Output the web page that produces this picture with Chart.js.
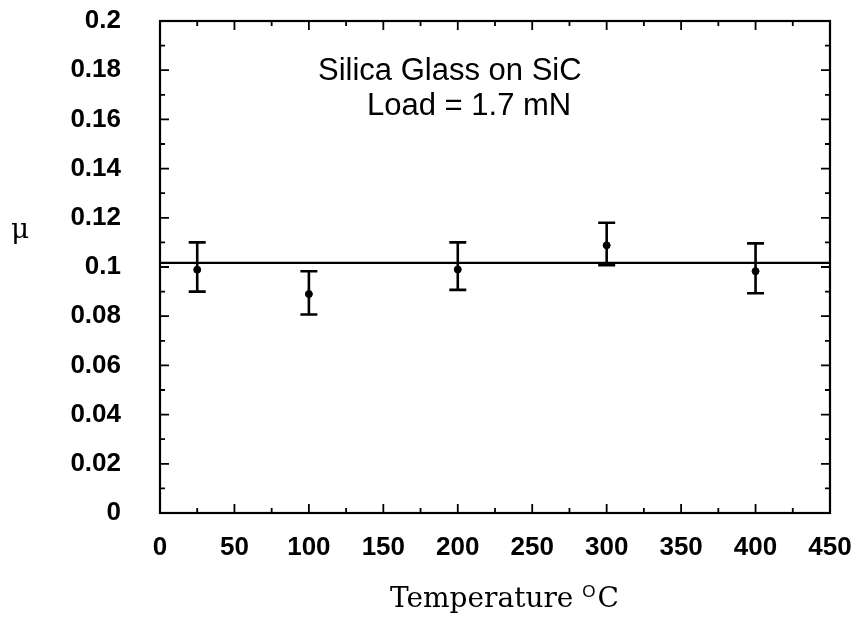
<!DOCTYPE html>
<html>
<head>
<meta charset="utf-8">
<script src="https://cdn.jsdelivr.net/npm/chart.js@4/dist/chart.umd.min.js"></script>
<style>
    html, body { margin: 0; padding: 0; background: #fff; }
    #wrap { width: 860px; height: 617px; }
</style>
</head>
<body>
<div id="wrap"><canvas id="muChart" width="860" height="617"></canvas></div>
<script>
const temperatures = [25, 100, 200, 300, 400];
const muValues = [0.0989, 0.0890, 0.0990, 0.1088, 0.0983];
const muUpper = [0.1100, 0.0983, 0.1100, 0.1180, 0.1096];
const muLower = [0.0900, 0.0807, 0.0907, 0.1007, 0.0893];
const fitLineX = [0, 450];
const fitLineY = [0.1017, 0.1017];
const xTickLabels = ["0", "50", "100", "150", "200", "250", "300", "350", "400", "450"];
const yTickLabels = ["0", "0.02", "0.04", "0.06", "0.08", "0.1", "0.12", "0.14", "0.16", "0.18", "0.2"];
const annotationLines = ["Silica Glass on SiC", "Load = 1.7 mN"];

const sansBold = { family: "'Liberation Sans', Arial, sans-serif", size: 26, weight: "bold" };

// frame with inward ticks on all four sides
const framePlugin = {
    id: "frame",
    afterDraw(chart) {
        const { ctx, chartArea: a, scales } = chart;
        const x = scales.x;
        const y = scales.y;
        ctx.save();
        ctx.strokeStyle = "#000";
        ctx.lineWidth = 2.2;
        ctx.strokeRect(a.left, a.top, a.right - a.left, a.bottom - a.top);

        ctx.lineWidth = 1.8;
        for (let v = 0; v <= 450; v += 25) {
            const px = x.getPixelForValue(v);
            const len = v % 50 === 0 ? 9 : 5;
            ctx.beginPath();
            ctx.moveTo(px, a.bottom);
            ctx.lineTo(px, a.bottom - len);
            ctx.moveTo(px, a.top);
            ctx.lineTo(px, a.top + len);
            ctx.stroke();
        }
        for (let i = 0; i <= 20; i++) {
            const py = y.getPixelForValue(i * 0.01);
            const len = i % 2 === 0 ? 9 : 5;
            ctx.beginPath();
            ctx.moveTo(a.left, py);
            ctx.lineTo(a.left + len, py);
            ctx.moveTo(a.right, py);
            ctx.lineTo(a.right - len, py);
            ctx.stroke();
        }
        ctx.restore();
    }
};

const errorBarPlugin = {
    id: "errorBars",
    afterDatasetsDraw(chart) {
        const { ctx, scales } = chart;
        ctx.save();
        ctx.strokeStyle = "#000";
        ctx.lineWidth = 2.6;
        temperatures.forEach((t, i) => {
            const px = scales.x.getPixelForValue(t);
            const top = scales.y.getPixelForValue(muUpper[i]);
            const bot = scales.y.getPixelForValue(muLower[i]);
            ctx.beginPath();
            ctx.moveTo(px, top);
            ctx.lineTo(px, bot);
            ctx.moveTo(px - 8.5, top);
            ctx.lineTo(px + 8.5, top);
            ctx.moveTo(px - 8.5, bot);
            ctx.lineTo(px + 8.5, bot);
            ctx.stroke();
        });
        ctx.restore();
    }
};

const labelsPlugin = {
    id: "labels",
    afterDraw(chart) {
        const { ctx } = chart;
        ctx.save();
        ctx.fillStyle = "#000";
        ctx.textBaseline = "alphabetic";
        ctx.textAlign = "left";
        ctx.font = "31px 'Liberation Sans', Arial, sans-serif";
        ctx.fillText(annotationLines[0], 318, 80);
        ctx.fillText(annotationLines[1], 367, 115);

        // x axis title
        const serif = "28px 'DejaVu Serif', 'Liberation Serif', serif";
        const supFont = "17px 'Liberation Sans', Arial, sans-serif";
        ctx.font = serif;
        const main = "Temperature ";
        const wMain = ctx.measureText(main).width;
        const start = 390;
        ctx.fillText(main, start, 607);
        ctx.font = supFont;
        const wSup = ctx.measureText("O").width;
        ctx.fillText("O", start + wMain, 597);
        ctx.font = serif;
        ctx.fillText("C", start + wMain + wSup + 2, 607);

        // y axis title
        ctx.font = "28px 'DejaVu Serif', 'Liberation Serif', serif";
        ctx.fillText("\u03bc", 11, 238);
        ctx.restore();
    }
};

new Chart(document.getElementById("muChart"), {
    type: "scatter",
    data: {
        datasets: [
            {
                label: "fit",
                type: "line",
                data: fitLineX.map((x, i) => ({ x, y: fitLineY[i] })),
                borderColor: "#000",
                borderWidth: 2.2,
                pointRadius: 0,
                fill: false
            },
            {
                label: "mu",
                data: temperatures.map((t, i) => ({ x: t, y: muValues[i] })),
                backgroundColor: "#000",
                borderColor: "#000",
                pointRadius: 3.5,
                pointStyle: "circle"
            }
        ]
    },
    options: {
        responsive: false,
        animation: false,
        layout: { padding: { top: 21, right: 30, left: 0, bottom: 0 } },
        plugins: {
            legend: { display: false },
            tooltip: { enabled: false }
        },
        scales: {
            x: {
                type: "linear",
                min: 0,
                max: 450,
                afterFit(scale) {
                    scale.height = 104;
                    scale.paddingLeft = 0;
                    scale.paddingRight = 0;
                },
                afterBuildTicks(scale) {
                    scale.ticks = xTickLabels.map((l) => ({ value: Number(l) }));
                },
                ticks: {
                    padding: 19,
                    color: "#000",
                    font: sansBold,
                    callback: (v, i) => xTickLabels[i]
                },
                grid: { display: false, drawTicks: false },
                border: { display: false }
            },
            y: {
                type: "linear",
                min: 0,
                max: 0.2,
                afterFit(scale) {
                    scale.width = 160;
                    scale.paddingTop = 0;
                    scale.paddingBottom = 0;
                },
                afterBuildTicks(scale) {
                    scale.ticks = yTickLabels.map((l) => ({ value: Number(l) }));
                },
                ticks: {
                    padding: 39,
                    color: "#000",
                    font: sansBold,
                    callback: (v, i) => yTickLabels[i]
                },
                grid: { display: false, drawTicks: false },
                border: { display: false }
            }
        }
    },
    plugins: [framePlugin, errorBarPlugin, labelsPlugin]
});
</script>
</body>
</html>
